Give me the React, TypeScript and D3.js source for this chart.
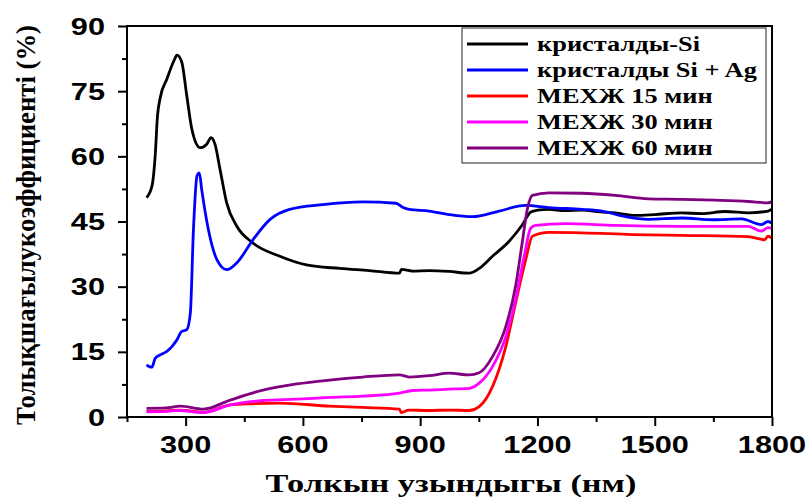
import React, { useEffect, useRef } from 'react';
import * as d3 from 'd3';

// series: wavelength (nm) and reflectance (%)
const siWl = [200, 214, 222, 228, 235, 252, 270, 278, 290, 303, 316, 337, 354, 365, 375, 388, 405, 431, 473, 541, 609, 694, 770, 847, 852, 880, 923, 974, 1025, 1051, 1085, 1127, 1161, 1183, 1200, 1229, 1270, 1314, 1360, 1399, 1450, 1500, 1569, 1620, 1680, 1740, 1790, 1800];
const siVal = [50.5, 53.2, 60, 69.3, 73.5, 77.8, 82, 83.3, 81.7, 73.9, 66.2, 62, 62.8, 64.3, 62.8, 57, 49.3, 43.9, 40, 37, 35, 34.2, 33.7, 33.1, 34, 33.6, 33.7, 33.5, 33.1, 34.2, 37, 40.4, 44.2, 47.2, 47.6, 47.8, 47.5, 47.6, 47.2, 47, 46.4, 46.6, 47, 46.8, 47.3, 47, 47.4, 47.8];

const agWl = [200, 207, 214, 222, 235, 252, 278, 290, 303, 312, 320, 329, 335, 341, 358, 380, 405, 431, 473, 516, 566, 651, 753, 838, 855, 872, 923, 974, 1034, 1102, 1170, 1229, 1314, 1365, 1425, 1484, 1569, 1650, 1722, 1773, 1790, 1800];
const agVal = [12, 11.6, 11.5, 13.5, 14.3, 15.1, 17.8, 19.7, 20.1, 23.9, 43.2, 55.5, 56.2, 52.4, 43.2, 36.2, 33.9, 35.5, 40.9, 45.5, 47.8, 48.9, 49.5, 49.2, 48.3, 47.8, 47.4, 46.6, 46.1, 47.4, 48.7, 48.2, 47.8, 47.4, 46.1, 45.5, 45.8, 45.4, 45.6, 44.3, 45, 44.6];

const m15Wl = [200, 250, 286, 345, 414, 456, 541, 668, 753, 847, 852, 870, 923, 974, 1025, 1051, 1085, 1119, 1144, 1170, 1187, 1229, 1314, 1442, 1569, 1739, 1781, 1790, 1800];
const m15Val = [1.3, 1.4, 1.6, 1.1, 2.8, 3.0, 3.2, 2.5, 2.2, 1.8, 1.0, 1.6, 1.5, 1.6, 1.5, 2.4, 7.0, 16.2, 26.2, 36.2, 41.6, 42.5, 42.4, 42, 41.8, 41.5, 40.8, 41.6, 41.2];

const m30Wl = [200, 250, 286, 345, 414, 498, 584, 668, 753, 847, 881, 923, 974, 1025, 1051, 1085, 1119, 1144, 1166, 1183, 1195, 1272, 1399, 1569, 1739, 1773, 1790, 1800];
const m30Val = [1.2, 1.3, 1.5, 1.0, 2.8, 3.8, 4.1, 4.5, 4.8, 5.5, 6.1, 6.2, 6.4, 6.6, 7.8, 11.6, 18.5, 27, 37, 43.5, 44.1, 44.5, 44.1, 43.9, 43.9, 42.8, 43.6, 43.4];

const m60Wl = [200, 250, 286, 345, 414, 498, 584, 668, 753, 847, 872, 923, 974, 1025, 1051, 1085, 1119, 1144, 1161, 1174, 1187, 1229, 1314, 1399, 1484, 1570, 1654, 1740, 1790, 1800];
const m60Val = [2.0, 2.1, 2.5, 1.8, 3.9, 6.2, 7.6, 8.5, 9.2, 9.7, 9.2, 9.5, 10.1, 9.7, 10.2, 13.9, 20.8, 30.1, 40.1, 47.8, 51, 51.6, 51.5, 51, 50.2, 50.1, 49.9, 49.6, 49.3, 49.5];

const seriesNames = ['кристалды-Si', 'кристалды Si + Ag', 'МЕХЖ 15 мин', 'МЕХЖ 30 мин', 'МЕХЖ 60 мин'];
const seriesColors = ['#000000', '#0000ff', '#ff0000', '#ff00ff', '#800080'];

const xTicks = [300, 600, 900, 1200, 1500, 1800];
const xMinor = [150, 450, 750, 1050, 1350, 1650];
const yTicks = [0, 15, 30, 45, 60, 75, 90];
const yMinor = [7.5, 22.5, 37.5, 52.5, 67.5, 82.5];

const W = 810;
const H = 497;
const SANS = '"Liberation Sans", Arial, sans-serif';
const SERIF = '"Liberation Serif", "Times New Roman", serif';
const STRETCH = 1.28; // the original picture is widened horizontally

const App = () => {
    const ref = useRef<SVGSVGElement>(null);

    useEffect(() => {
        const svg = d3.select(ref.current);
        svg.selectAll('*').remove();

        const left = 127, right = 772, top = 26, bottom = 417;

        const x = d3.scaleLinear().domain([150, 1800]).range([left, right]);
        const y = d3.scaleLinear().domain([0, 90]).range([bottom, top]);

        const all = [
            [siWl, siVal],
            [agWl, agVal],
            [m15Wl, m15Val],
            [m30Wl, m30Val],
            [m60Wl, m60Val],
        ];

        const line = d3.line<[number, number]>()
            .x(d => x(d[0]))
            .y(d => y(d[1]))
            .curve(d3.curveMonotoneX);

        all.forEach(([wl, val], i) => {
            const pts = wl.map((w, j) => [w, val[j]] as [number, number]);
            svg.append('path')
                .attr('d', line(pts))
                .attr('fill', 'none')
                .attr('stroke', seriesColors[i])
                .attr('stroke-width', 2.8)
                .attr('stroke-linejoin', 'round');
        });

        // frame
        svg.append('rect')
            .attr('x', left).attr('y', top)
            .attr('width', right - left).attr('height', bottom - top)
            .attr('fill', 'none').attr('stroke', '#000').attr('stroke-width', 2);

        // tick marks
        const tickG = (axis: any, tf: string) => {
            const g = svg.append('g').attr('transform', tf).call(axis);
            g.select('.domain').remove();
            g.selectAll('line').attr('stroke-width', 2);
            g.selectAll('text').remove();
        };
        tickG(d3.axisBottom(x).tickValues(xTicks).tickSize(9), `translate(0,${bottom})`);
        tickG(d3.axisBottom(x).tickValues(xMinor).tickSize(5), `translate(0,${bottom})`);
        tickG(d3.axisLeft(y).tickValues(yTicks).tickSize(9), `translate(${left},0)`);
        tickG(d3.axisLeft(y).tickValues(yMinor).tickSize(5), `translate(${left},0)`);

        // tick labels (widened like the original)
        svg.append('g').selectAll('text')
            .data(xTicks)
            .join('text')
            .attr('transform', d => `translate(${x(d)},${bottom + 36}) scale(${STRETCH},1)`)
            .attr('text-anchor', 'middle')
            .attr('font-family', SANS).attr('font-weight', 'bold').attr('font-size', 24)
            .text(d => String(d));

        svg.append('g').selectAll('text')
            .data(yTicks)
            .join('text')
            .attr('transform', d => `translate(${left - 22},${y(d) + 8.5}) scale(${STRETCH},1)`)
            .attr('text-anchor', 'end')
            .attr('font-family', SANS).attr('font-weight', 'bold').attr('font-size', 24)
            .text(d => String(d));

        // axis titles
        svg.append('text')
            .attr('transform', `translate(451,492) scale(1.32,1)`)
            .attr('text-anchor', 'middle')
            .attr('font-family', SERIF).attr('font-weight', 'bold').attr('font-size', 26)
            .text('Толкын узындыгы (нм)');

        svg.append('text')
            .attr('transform', 'translate(35,225) rotate(-90)')
            .attr('text-anchor', 'middle')
            .attr('font-family', SERIF).attr('font-weight', 'bold').attr('font-size', 28)
            .attr('textLength', 400)
            .attr('lengthAdjust', 'spacingAndGlyphs')
            .text('Толықшағылукоэффициенті (%)');

        // legend
        const lg = svg.append('g');
        lg.append('rect')
            .attr('x', 462).attr('y', 28)
            .attr('width', 304).attr('height', 135)
            .attr('fill', '#fff').attr('stroke', '#222').attr('stroke-width', 1);
        seriesNames.forEach((name, i) => {
            const ry = 44 + i * 26;
            lg.append('line')
                .attr('x1', 467).attr('x2', 528)
                .attr('y1', ry).attr('y2', ry)
                .attr('stroke', seriesColors[i]).attr('stroke-width', 3);
            lg.append('text')
                .attr('transform', `translate(537,${ry + 6.5}) scale(1.32,1)`)
                .attr('font-family', SERIF).attr('font-weight', 'bold').attr('font-size', 20)
                .text(name);
        });
    }, []);

    return (
        <svg ref={ref} width={W} height={H}
            style={{ position: 'absolute', left: 0, top: 0, background: '#fff' }} />
    );
};

export default App;
